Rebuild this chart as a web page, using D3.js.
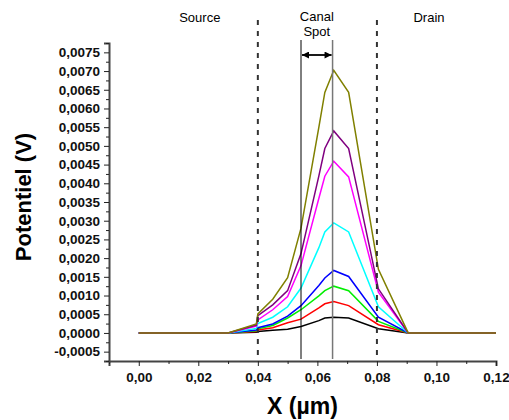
<!DOCTYPE html>
<html><head><meta charset="utf-8">
<script src="https://cdn.jsdelivr.net/npm/d3@7"></script>
<style>body{margin:0;background:#fff}svg{display:block}</style>
</head><body>
<script>
const xs = [0, 0.03, 0.0395, 0.04, 0.045, 0.05, 0.0545, 0.0605, 0.0625, 0.0655, 0.0705, 0.0805, 0.0905, 0.12];
const sBlack   = [0, 0, 0.00002, 0.00004, 0.00007, 0.0001,  0.00017, 0.00033, 0.0004,  0.00042, 0.0004,  0.00011, 0, 0];
const sRed     = [0, 0, 0.00004, 0.00008, 0.00014, 0.00027, 0.00037, 0.00067, 0.00078, 0.00084, 0.00073, 0.00022, 0, 0];
const sGreen   = [0, 0, 0.00006, 0.00011, 0.0002,  0.0004,  0.00062, 0.00099, 0.00113, 0.00125, 0.00113, 0.00031, 0, 0];
const sBlue    = [0, 0, 0.00008, 0.00014, 0.00024, 0.00045, 0.00073, 0.00127, 0.00147, 0.00167, 0.00151, 0.00042, 0, 0];
const sCyan    = [0, 0, 0.00012, 0.00025, 0.00042, 0.0007,  0.0012,  0.00228, 0.0027,  0.00294, 0.0027,  0.0007,  0, 0];
const sMagenta = [0, 0, 0.00018, 0.00035, 0.00062, 0.00097, 0.0018,  0.0036,  0.00419, 0.00459, 0.00417, 0.00109, 0, 0];
const sPurple  = [0, 0, 0.00021, 0.00046, 0.00075, 0.00113, 0.00212, 0.0042,  0.00493, 0.0054,  0.00493, 0.00118, 0, 0];
const sOlive   = [0, 0, 0.00024, 0.00051, 0.0009,  0.00148, 0.0028,  0.0055,  0.00643, 0.00702, 0.00643, 0.0017,  0, 0];
const seriesColors = ["#000000", "#ff0000", "#00ee00", "#0000ff", "#00ffff", "#ff00ff", "#800080", "#808000"];
const allSeries = [sBlack, sRed, sGreen, sBlue, sCyan, sMagenta, sPurple, sOlive];
const xTickVals = [0, 0.02, 0.04, 0.06, 0.08, 0.10, 0.12];
const yTickVals = d3.range(-0.0005, 0.00751, 0.0005);
const regionLabels = [{t:"Source", x:0.0205}, {t:"Drain", x:0.0975}];
const dashedAt = [0.04, 0.08];
const spotFrom = 0.0545, spotTo = 0.0651;

const W = 509, H = 420;
const svg = d3.select("body").append("svg").attr("width", W).attr("height", H);
const x = d3.scaleLinear().domain([-0.01, 0.12]).range([109, 496]);
const y = d3.scaleLinear().domain([-0.00075, 0.00775]).range([361, 43]);
const fmt = (d, n) => d3.format("." + n + "f")(d).replace(".", ",").replace("−", "-");

// curves
const line = d3.line().x((d, i) => x(xs[i])).y(d => y(d));
allSeries.forEach((s, k) => {
  svg.append("path").attr("d", line(s)).attr("fill", "none")
    .attr("stroke", seriesColors[k]).attr("stroke-width", 1.5).attr("stroke-linejoin", "miter");
});

// dashed region lines
dashedAt.forEach(v => {
  svg.append("line").attr("x1", x(v)).attr("x2", x(v)).attr("y1", 20).attr("y2", 358)
    .attr("stroke", "#333").attr("stroke-width", 2).attr("stroke-dasharray", "5,6");
});
// spot lines
svg.append("line").attr("x1", x(spotFrom)).attr("x2", x(spotFrom)).attr("y1", 40).attr("y2", 359)
  .attr("stroke", "#000").attr("stroke-width", 1);
svg.append("line").attr("x1", x(spotTo)).attr("x2", x(spotTo)).attr("y1", 40).attr("y2", 359)
  .attr("stroke", "#777").attr("stroke-width", 1.5);
// double arrow
const defs = svg.append("defs");
defs.append("marker").attr("id", "ah").attr("viewBox", "0 0 10 10").attr("refX", 10).attr("refY", 5)
  .attr("markerWidth", 9).attr("markerHeight", 7).attr("markerUnits", "userSpaceOnUse").attr("orient", "auto-start-reverse")
  .append("path").attr("d", "M0,0L10,5L0,10z").attr("fill", "#000");
svg.append("line").attr("x1", x(spotFrom) + 1).attr("x2", x(spotTo) - 1).attr("y1", 55).attr("y2", 55)
  .attr("stroke", "#000").attr("stroke-width", 1.8)
  .attr("marker-start", "url(#ah)").attr("marker-end", "url(#ah)");

// texts
const tf = "Arial, 'Liberation Sans', sans-serif";
regionLabels.forEach(r => {
  svg.append("text").attr("x", x(r.x)).attr("y", 21.5).attr("text-anchor", "middle")
    .attr("font-family", tf).attr("font-size", 13).text(r.t);
});
svg.append("text").attr("x", (x(spotFrom) + x(spotTo)) / 2).attr("y", 21).attr("text-anchor", "middle")
  .attr("font-family", tf).attr("font-size", 13).text("Canal");
svg.append("text").attr("x", (x(spotFrom) + x(spotTo)) / 2).attr("y", 35.5).attr("text-anchor", "middle")
  .attr("font-family", tf).attr("font-size", 13).text("Spot");

// axes
const xMinor = d3.range(-0.01, 0.1201, 0.01).filter(v => !xTickVals.some(t => Math.abs(t - v) < 1e-9));
const yMinor = d3.range(-0.00075, 0.00776, 0.0005);
const gx = svg.append("g").attr("transform", "translate(0,361)");
gx.call(d3.axisBottom(x).tickValues(xTickVals).tickSize(5).tickPadding(6).tickFormat(d => fmt(d, 2)));
gx.append("g").call(d3.axisBottom(x).tickValues(xMinor).tickSize(3).tickFormat(""));
gx.selectAll(".domain").attr("stroke", "#444").attr("stroke-width", 2);
const gy = svg.append("g").attr("transform", "translate(109,0)");
gy.call(d3.axisLeft(y).tickValues(yTickVals).tickSize(5).tickPadding(4).tickFormat(d => fmt(d, 4)));
gy.append("g").call(d3.axisLeft(y).tickValues(yMinor).tickSize(3).tickFormat(""));
gy.selectAll(".domain").attr("stroke", "#444").attr("stroke-width", 2);
svg.selectAll(".tick line").attr("stroke", "#222").attr("stroke-width", 1);
svg.selectAll(".tick text").attr("font-family", tf).attr("font-size", 13.5).attr("font-weight", "bold").attr("fill", "#111");
gx.selectAll("g > path.domain").filter((d,i,n)=>n[i].parentNode!==gx.node()).remove();
gy.selectAll("g > path.domain").filter((d,i,n)=>n[i].parentNode!==gy.node()).remove();

svg.append("text").attr("x", 302.5).attr("y", 414).attr("text-anchor", "middle")
  .attr("font-family", tf).attr("font-size", 23).attr("font-weight", "bold").text("X (µm)");
svg.append("text").attr("transform", "translate(31,197) rotate(-90)").attr("text-anchor", "middle")
  .attr("font-family", tf).attr("font-size", 22).attr("font-weight", "bold").text("Potentiel (V)");
</script>
</body></html>
